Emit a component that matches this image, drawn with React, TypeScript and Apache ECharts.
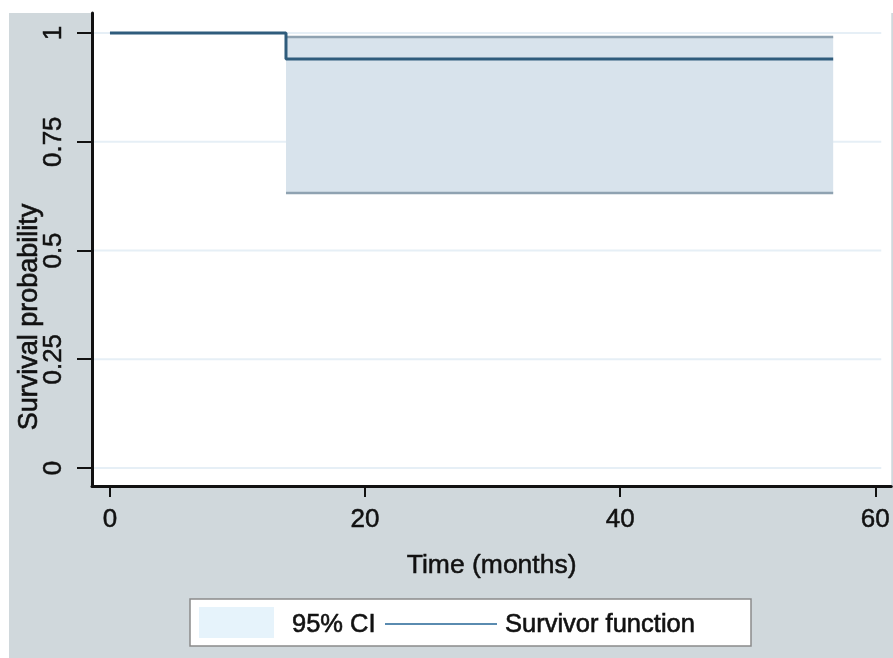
import React, { useEffect, useRef } from "react";
import * as echarts from "echarts";

const survTime = [0, 13.8, 56.7];
const survProb = [1, 0.94, 0.94];
const ciTime = [13.8, 56.7];
const ciLower = [0.632, 0.632];
const ciUpper = [0.991, 0.991];
const xTicks = [0, 20, 40, 60];
const yTicks = [0, 0.25, 0.5, 0.75, 1];
const yTickLabels = ["0", "0.25", "0.5", "0.75", "1"];
const legendNames = ["95% CI", "Survivor function"];

const FONT = "Liberation Sans, Arial, Helvetica, sans-serif";
const INK = "#111";
const heavy = { textBorderColor: INK, textBorderWidth: 0.5 };

export default function App() {
  const ref = useRef<HTMLDivElement>(null);
  useEffect(() => {
    const chart = echarts.init(ref.current!, null, { renderer: "svg" });
    const survData = survTime.map((t, i) => [t, survProb[i]]);
    const bandData = ciTime.map((t, i) => [t, ciLower[i], ciUpper[i]]);
    chart.setOption({
      animation: false,
      graphic: [
        { type: "rect", z: -10, shape: { x: 9, y: 13, width: 884, height: 645 }, style: { fill: "#d0d8dc" }, silent: true },
        {
          type: "text", x: 28, y: 317, rotation: Math.PI / 2, style: {
            text: "Survival probability", font: `27px ${FONT}`, fill: INK, align: "center", verticalAlign: "middle",
            stroke: INK, lineWidth: 0.6,
          },
        },
        { type: "rect", shape: { x: 190, y: 599, width: 561, height: 47 }, style: { fill: "#fff", stroke: "#8a8a8a", lineWidth: 1.5 } },
        { type: "rect", shape: { x: 199, y: 607, width: 75, height: 31 }, style: { fill: "#e6f3fb" } },
        { type: "text", x: 292, y: 623, style: { text: legendNames[0], font: `25.5px ${FONT}`, fill: INK, verticalAlign: "middle", stroke: INK, lineWidth: 0.6 } },
        { type: "line", shape: { x1: 385, y1: 624, x2: 497, y2: 624 }, style: { stroke: "#5a8bb0", lineWidth: 2 } },
        { type: "text", x: 505, y: 623, style: { text: legendNames[1], font: `25.5px ${FONT}`, fill: INK, verticalAlign: "middle", stroke: INK, lineWidth: 0.6 } },
      ],
      grid: { left: 92, top: 13, right: 0, bottom: 172, show: true, backgroundColor: "#fff", borderWidth: 0 },
      xAxis: {
        type: "value", min: -1.408, max: 61.25,
        name: "Time (months)", nameLocation: "middle", nameGap: 64,
        nameTextStyle: { fontFamily: FONT, fontSize: 26.5, color: INK, ...heavy },
        axisLine: { show: true, onZero: false, lineStyle: { color: INK, width: 3 } },
        axisTick: { show: true, length: 11, lineStyle: { color: INK, width: 2 }, customValues: xTicks },
        axisLabel: { fontFamily: FONT, fontSize: 26, color: INK, margin: 19, customValues: xTicks, ...heavy },
        splitLine: { show: false },
      },
      yAxis: {
        type: "value", min: -0.0414, max: 1.046,
        axisLine: { show: true, onZero: false, lineStyle: { color: INK, width: 3 } },
        axisTick: { show: true, length: 15, lineStyle: { color: INK, width: 2 }, customValues: yTicks },
        axisLabel: {
          fontFamily: FONT, fontSize: 26, color: INK, margin: 27, rotate: 90, customValues: yTicks, ...heavy,
          formatter: (v: number) => yTickLabels[yTicks.indexOf(v)] ?? String(v),
        },
        splitLine: { show: false },
      },
      series: [
        {
          type: "custom", name: "gridlines", z: 0, silent: true, data: yTicks,
          renderItem: (params: any, api: any) => {
            const cs = params.coordSys;
            const y = api.coord([0, api.value(0)])[1];
            return {
              type: "line",
              shape: { x1: cs.x, y1: y, x2: cs.x + cs.width - 10, y2: y },
              style: { stroke: "#e6eff6", lineWidth: 2 },
            };
          },
        },
        {
          type: "custom", name: legendNames[0], z: 1, data: bandData,
          renderItem: (params: any, api: any) => {
            if (params.dataIndex !== 0) return null;
            const top = bandData.map((d) => api.coord([d[0], d[2]]));
            const bot = bandData.map((d) => api.coord([d[0], d[1]])).reverse();
            return { type: "polygon", shape: { points: top.concat(bot) }, style: { fill: "#d8e3ec" } };
          },
        },
        {
          type: "line", name: "lower", data: ciTime.map((t, i) => [t, ciLower[i]]), z: 2,
          showSymbol: false, lineStyle: { color: "#8fa2b1", width: 2.5 },
        },
        {
          type: "line", name: "upper", data: ciTime.map((t, i) => [t, ciUpper[i]]), z: 2,
          showSymbol: false, lineStyle: { color: "#8fa2b1", width: 2.5 },
        },
        {
          type: "line", name: legendNames[1], data: survData, step: "end", z: 3,
          showSymbol: false, lineStyle: { color: "#2f5c7c", width: 3 },
        },
      ],
    });
    return () => chart.dispose();
  }, []);
  return <div ref={ref} style={{ position: "fixed", left: 0, top: 0, width: 893, height: 658 }} />;
}
